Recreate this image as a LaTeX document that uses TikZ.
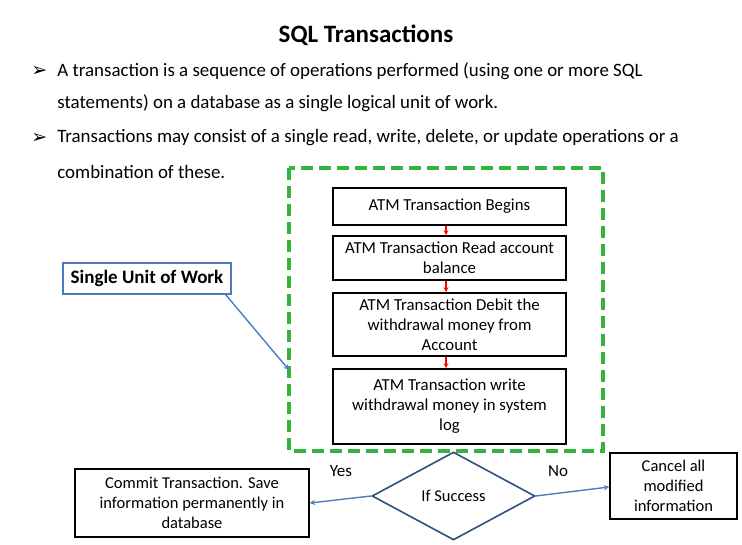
\documentclass[tikz,border=0pt]{standalone}
\usepackage{fontspec}
\setmainfont{Carlito}
\newfontfamily\symfont{DejaVu Sans}
\usepackage{tikz}
\usetikzlibrary{shapes.geometric}
\usetikzlibrary{positioning}
\definecolor{boxgreen}{RGB}{51,180,60}
\definecolor{linkblue}{RGB}{74,124,190}
\definecolor{diablue}{RGB}{47,79,128}
\tikzset{
    stepnode/.style = {rectangle, draw=black, line width=1.6pt, align=center, font=\fontsize{16.8}{20}\selectfont, minimum width=233pt, inner sep=1pt},
    outnode/.style = {rectangle, draw=black, line width=1.6pt, align=center, font=\fontsize{16.5}{20}\selectfont},
    bullet/.style = {anchor=west, font=\fontsize{18.9}{22}\selectfont, inner sep=0pt},
}
\begin{document}
\begin{tikzpicture}[x=1pt, y=-1pt, thick]
\tikzset{
    edger/.style = {->, red, line width=1.2pt, >=stealth},
    edgeb/.style = {->, linkblue, line width=1.4pt, >=stealth},
}
\useasboundingbox (0,0) rectangle (742,545);
\node[font=\fontsize{25}{30}\selectfont\bfseries] at (366,35) (title) {SQL Transactions};
%
\node[bullet] at (31,71) (m1) {\symfont\fontsize{19}{20}\selectfont ➢};
\node[bullet] at (57,71) (b1) {A transaction is a sequence of operations performed (using one or more SQL};
\node[bullet] at (57,103) (b1b) {statements) on a database as a single logical unit of work.};
\node[bullet] at (31,138) (m2) {\symfont\fontsize{19}{20}\selectfont ➢};
\node[bullet] at (57,138) (b2) {Transactions may consist of a single read, write, delete, or update operations or a};
\node[bullet] at (57,172) (b2b) {combination of these.};
%
\draw[boxgreen, line width=4pt, dash pattern=on 12pt off 6pt] (289,168) rectangle (603,451);
%
\node[stepnode, minimum height=37pt] at (449.5,206.5) (s1) {ATM Transaction Begins};
\node[stepnode, minimum height=44pt] at (449.5,258) (s2) {ATM Transaction Read account\\balance};
\node[stepnode, minimum height=63pt] at (449.5,324.5) (s3) {ATM Transaction Debit the\\withdrawal money from\\Account};
\node[stepnode, minimum height=75pt] at (449.5,406.5) (s4) {ATM Transaction write\\withdrawal money in system\\log};
%
\draw[edger] (s1.south -| 446,0) -- (s2.north -| 446,0);
\draw[edger] (s2.south -| 446,0) -- (s3.north -| 446,0);
\draw[edger] (s3.south -| 446,0) -- (s4.north -| 446,0);
%
\node[rectangle, draw=linkblue, line width=1.4pt, fill=white, font=\fontsize{19}{22}\selectfont\bfseries, minimum width=168pt, minimum height=31pt] at (147,278.5) (unit) {Single Unit of Work};
\coordinate (g) at (289,370);
\draw[edgeb] (unit.south east) ++(-6,0) -- (g);
%
\node[diamond, draw=diablue, line width=1.6pt, fill=white, font=\fontsize{16.5}{20}\selectfont, minimum width=163pt, minimum height=88pt, inner sep=0pt] at (453.5,496) (d) {If Success};
\node[outnode, minimum width=234pt, minimum height=68pt] at (192,503) (ok) {Commit Transaction. Save\\information permanently in\\database};
\node[outnode, minimum width=127pt, minimum height=66pt] at (673.5,486) (no) {Cancel all\\modified\\information};
\draw[edgeb] (d.west) -- (ok.east);
\draw[edgeb] (d.east) -- (no.west |- 0,487);
\node[font=\fontsize{17}{20}\selectfont] at (341,471) (yes) {Yes};
\node[font=\fontsize{17}{20}\selectfont] at (558,471) (nolab) {No};
\end{tikzpicture}
\end{document}
